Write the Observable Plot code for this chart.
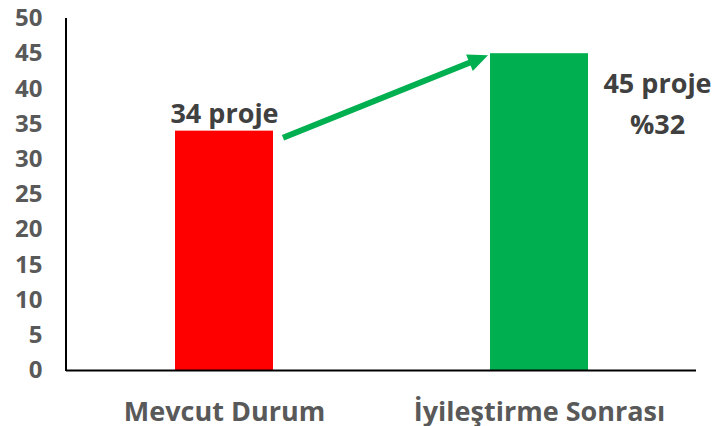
<!DOCTYPE html>
<html>
<head>
<meta charset="utf-8">
<script src="https://cdn.jsdelivr.net/npm/d3@7"></script>
<script src="https://cdn.jsdelivr.net/npm/@observablehq/plot@0.6"></script>
<style>
  html, body { margin: 0; padding: 0; background: #fff; }
</style>
</head>
<body>
<div id="chart"></div>
<script>
const categories = ["Mevcut Durum", "İyileştirme Sonrası"];
const values = [34, 45];
const barColors = ["#FF0000", "#00B050"];
const yTicks = [0, 5, 10, 15, 20, 25, 30, 35, 40, 45, 50];
const barLabel = ["34 proje"];
const sideLabel = ["45 proje\n%32"];
const arrowValues = [33, 44.7]; // arrow start / end heights (y units)

const data = categories.map((c, i) => ({category: c, value: values[i], color: barColors[i]}));

const plot = Plot.plot({
  width: 714,
  height: 426,
  marginLeft: 66,
  marginRight: 18,
  marginTop: 18,
  marginBottom: 56,
  style: {fontFamily: "'Open Sans', sans-serif", background: "#fff", overflow: "visible"},
  x: {domain: categories, paddingInner: 0.689, paddingOuter: 0.3445, axis: null, label: null},
  y: {domain: [0, 50], axis: null, label: null},
  marks: [
    Plot.barY(data, {x: "category", y: "value", fill: "color"}),
    Plot.axisY(yTicks, {tickSize: 0, tickPadding: 24, fontSize: 24, fontWeight: "bold", fill: "#595959", label: null}),
    Plot.axisX(categories, {tickSize: 0, tickPadding: 31, fontSize: 27, fontWeight: "bold", fill: "#595959", label: null}),
    Plot.ruleY([0], {stroke: "#000", strokeWidth: 2}),
    Plot.text(barLabel, {x: () => categories[0], y: () => values[0], text: d => d, dy: -17, fontSize: 27, fontWeight: "bold", fill: "#404040"}),
    Plot.text(sideLabel, {x: () => categories[1], y: () => values[1], text: d => d, dx: 118, dy: 10, lineAnchor: "top", lineHeight: 1.52, fontSize: 27, fontWeight: "bold", fill: "#404040"})
  ]
});

document.getElementById("chart").appendChild(plot);

// Post-process: axis line and arrow using the plot's own scales
const xs = plot.scale("x");
const ys = plot.scale("y");
const svg = d3.select(plot);

// vertical axis line
svg.append("line")
  .attr("x1", xs.range[0]).attr("x2", xs.range[0])
  .attr("y1", ys.apply(50)).attr("y2", ys.apply(0) + 1)
  .attr("stroke", "#000").attr("stroke-width", 2);

// arrow
const x0 = xs.apply(categories[0]) + xs.bandwidth + 10;
const y0 = ys.apply(arrowValues[0]);
const x1 = xs.apply(categories[1]) - 2;
const y1 = ys.apply(arrowValues[1]);
const ang = Math.atan2(y1 - y0, x1 - x0);
const headLen = 20, headHalf = 9;
const bx = x1 - headLen * Math.cos(ang), by = y1 - headLen * Math.sin(ang);
svg.append("line")
  .attr("x1", x0).attr("y1", y0).attr("x2", bx + 2 * Math.cos(ang)).attr("y2", by + 2 * Math.sin(ang))
  .attr("stroke", "#00B050").attr("stroke-width", 6);
svg.append("polygon")
  .attr("points", [
    [x1, y1],
    [bx + headHalf * Math.sin(ang), by - headHalf * Math.cos(ang)],
    [bx - headHalf * Math.sin(ang), by + headHalf * Math.cos(ang)]
  ].map(p => p.join(",")).join(" "))
  .attr("fill", "#00B050");
</script>
</body>
</html>
